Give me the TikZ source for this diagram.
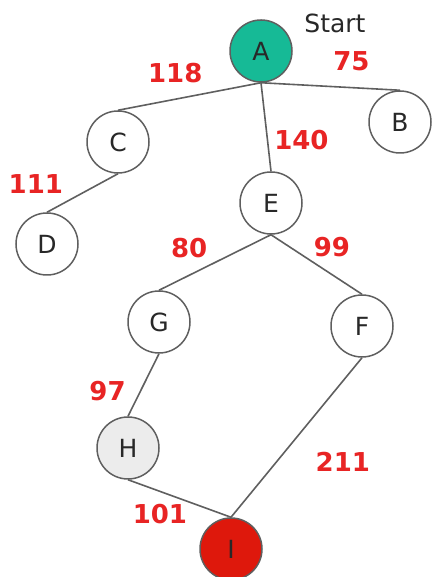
\documentclass[tikz,border=0pt]{standalone}
\usepackage{fontspec}
\setmainfont{DejaVu Sans}
\usepackage{tikz}
\usetikzlibrary{positioning}
\definecolor{edgegray}{RGB}{95,95,95}
\definecolor{textgray}{RGB}{40,40,40}
\definecolor{startcolor}{RGB}{22,186,150}
\definecolor{goalcolor}{RGB}{222,24,12}
\definecolor{visitcolor}{RGB}{236,236,236}
\definecolor{costred}{RGB}{232,36,36}

\begin{document}
\begin{tikzpicture}[
    x=1pt, y=1pt,
    city/.style={draw=edgegray, circle, line width=1.5pt, minimum size=62pt, inner sep=0pt, on grid, text=textgray, font=\fontsize{25}{25}\selectfont},
    road/.style={edgegray, line width=1.6pt},
    cost/.style={text=costred, inner sep=0pt, font=\fontsize{26}{26}\selectfont\bfseries}
]
    \useasboundingbox (0,0) rectangle (431,577);

    % Nodes
    \node[city, fill=startcolor] (a) at (261,526) {A};
    \node[city, below right=71pt and 139pt of a] (b) {B};
    \node[city, below left=91pt and 143pt of a] (c) {C};
    \node[city, below right=152pt and 10pt of a] (e) {E};
    \node[city, below left=102pt and 71pt of c] (d) {D};
    \node[city, below left=119pt and 112pt of e] (g) {G};
    \node[city, below right=123pt and 91pt of e] (f) {F};
    \node[city, fill=visitcolor, below left=126pt and 31pt of g] (h) {H};
    \node[city, fill=goalcolor, below right=101pt and 103pt of h] (i) {I};
    \node[on grid, text=textgray, font=\fontsize{25}{25}\selectfont, above right=28pt and 74pt of a] (start) {Start};

    % Edges
    \draw[road] (a.south) -- (c.north) node[cost, pos=.6, above=16pt] {118};
    \draw[road] (a.south) -- (b.north) node[cost, pos=.65, above=16pt] {75};
    \draw[road] (a.south) -- (e.north) node[cost, pos=.65, right=6pt] {140};
    \draw[road] (c.south) -- (d.north) node[cost, pos=.75, above left=8pt and 1pt] {111};
    \draw[road] (e.south) -- (g.north) node[cost, pos=.73, above=17pt] {80};
    \draw[road] (e.south) -- (f.north) node[cost, pos=.67, above=17pt] {99};
    \draw[road] (g.south) -- (h.north) node[cost, pos=.6, left=14pt] {97};
    \draw[road] (f.south) -- (i.north) node[cost, pos=.65, right=38pt] {211};
    \draw[road] (h.south) -- (i.north) node[cost, pos=.31, below=12pt] {101};
\end{tikzpicture}
\end{document}
